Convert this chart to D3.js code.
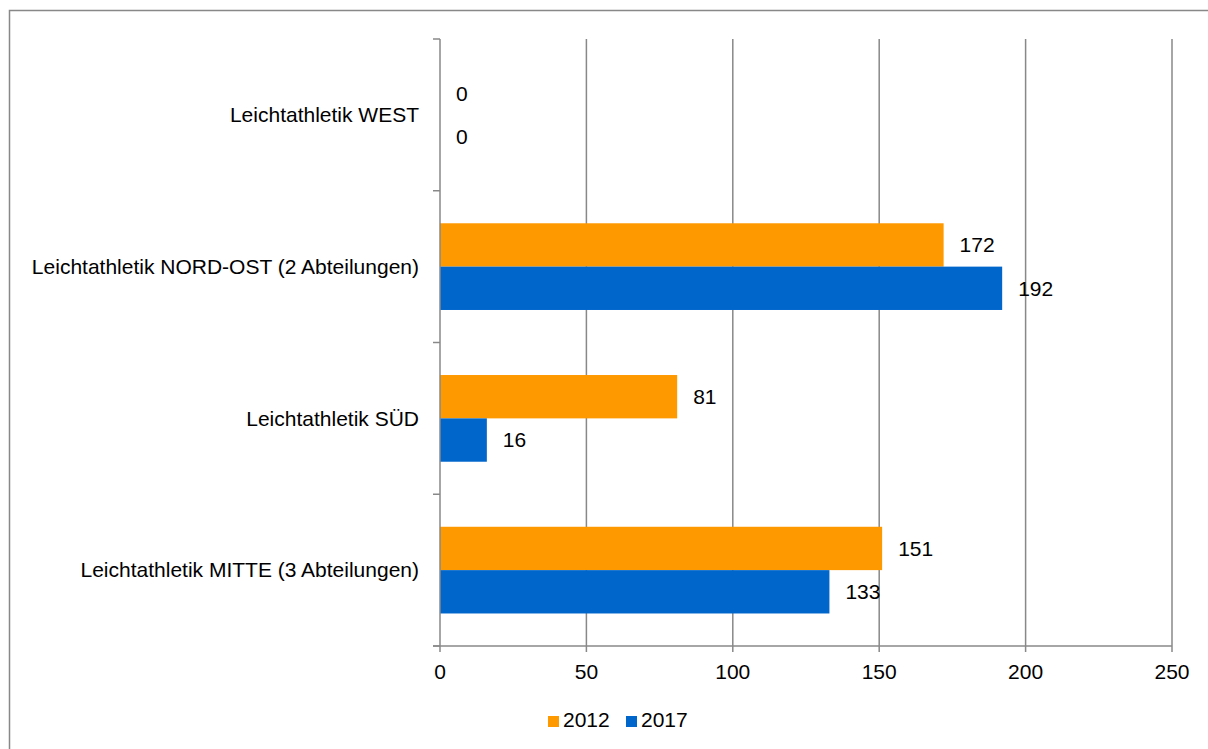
<!DOCTYPE html>
<meta charset="utf-8">
<script src="https://d3js.org/d3.v7.min.js"></script>
<style>
  body { margin: 0; background: #fff; }
  text { font-family: "Liberation Sans", Arial, sans-serif; fill: #000; }
</style>
<div id="chart"></div>
<script>
  // data
  var categories = ["Leichtathletik WEST", "Leichtathletik NORD-OST (2 Abteilungen)", "Leichtathletik SÜD", "Leichtathletik MITTE (3 Abteilungen)"];
  var seriesNames = ["2012", "2017"];
  var values2012 = [0, 172, 81, 151];
  var values2017 = [0, 192, 16, 133];
  var xTicks = [0, 50, 100, 150, 200, 250];
  var colors = ["#ff9900", "#0066cc"];

  var W = 1208, H = 749;
  var fs = "21px";
  var margin = { top: 39, left: 440, right: W - 1172, bottom: H - 646 };
  var width = W - margin.left - margin.right,
    height = H - margin.top - margin.bottom;

  var svg = d3.select("#chart").append("svg")
    .attr("width", W).attr("height", H);

  // outer border
  svg.append("rect")
    .attr("x", 9.5).attr("y", 10.5)
    .attr("width", W).attr("height", H)
    .attr("fill", "none").attr("stroke", "#888").attr("stroke-width", 1.5);

  var g = svg.append("g").attr("transform", "translate(" + margin.left + "," + margin.top + ")");

  var x = d3.scaleLinear().domain([0, 250]).range([0, width]);
  var y = d3.scaleBand().domain(categories).range([0, height]);
  var inner = d3.scaleBand().domain(seriesNames)
    .range([y.bandwidth() * 0.2143, y.bandwidth() * 0.7857]);

  // gridlines
  g.selectAll(".grid").data(xTicks.slice(1)).enter().append("line")
    .attr("x1", d => x(d)).attr("x2", d => x(d))
    .attr("y1", 0).attr("y2", height)
    .attr("stroke", "#888").attr("stroke-width", 1.5);

  // bars
  var rows = categories.map(function (c, i) {
    return { cat: c, vals: [values2012[i], values2017[i]] };
  });
  var grp = g.selectAll(".row").data(rows).enter().append("g")
    .attr("transform", d => "translate(0," + y(d.cat) + ")");
  grp.selectAll("rect").data(d => d.vals.map((v, j) => ({ s: seriesNames[j], v: v, j: j })))
    .enter().append("rect")
    .attr("x", 0).attr("y", d => inner(d.s))
    .attr("width", d => x(d.v)).attr("height", inner.bandwidth())
    .attr("fill", d => colors[d.j]);
  grp.selectAll("text").data(d => d.vals.map((v, j) => ({ s: seriesNames[j], v: v })))
    .enter().append("text")
    .attr("x", d => x(d.v) + 16)
    .attr("y", d => inner(d.s) + inner.bandwidth() / 2)
    .attr("dy", "0.35em")
    .attr("font-size", fs)
    .text(d => d.v);

  // y axis
  var yAxis = g.append("g");
  yAxis.append("line").attr("x1", 0).attr("x2", 0).attr("y1", 0).attr("y2", height)
    .attr("stroke", "#888").attr("stroke-width", 1.5);
  var yEdges = categories.map(c => y(c)).concat([height]);
  yAxis.selectAll(".tk").data(yEdges).enter().append("line")
    .attr("x1", -7).attr("x2", 0).attr("y1", d => d).attr("y2", d => d)
    .attr("stroke", "#888").attr("stroke-width", 1.5);
  yAxis.selectAll(".lbl").data(categories).enter().append("text")
    .attr("x", -21).attr("y", d => y(d) + y.bandwidth() / 2)
    .attr("dy", "0.35em").attr("text-anchor", "end")
    .attr("font-size", fs)
    .text(d => d);

  // x axis
  var xAxis = g.append("g").attr("transform", "translate(0," + height + ")");
  xAxis.append("line").attr("x1", -7).attr("x2", width).attr("y1", 0).attr("y2", 0)
    .attr("stroke", "#888").attr("stroke-width", 1.5);
  xAxis.selectAll(".tk").data(xTicks).enter().append("line")
    .attr("x1", d => x(d)).attr("x2", d => x(d)).attr("y1", 0).attr("y2", 6)
    .attr("stroke", "#888").attr("stroke-width", 1.5);
  xAxis.selectAll(".lbl").data(xTicks).enter().append("text")
    .attr("x", d => x(d)).attr("y", 26).attr("dy", "0.35em")
    .attr("text-anchor", "middle").attr("font-size", fs)
    .text(d => d);

  // legend
  var legend = svg.append("g").attr("transform", "translate(548,716)");
  var lx = [0, 78];
  seriesNames.forEach(function (s, i) {
    legend.append("rect").attr("x", lx[i]).attr("y", 0).attr("width", 11).attr("height", 11).attr("fill", colors[i]);
    legend.append("text").attr("x", lx[i] + 15).attr("y", 10.5).attr("font-size", fs).text(s);
  });
</script>
